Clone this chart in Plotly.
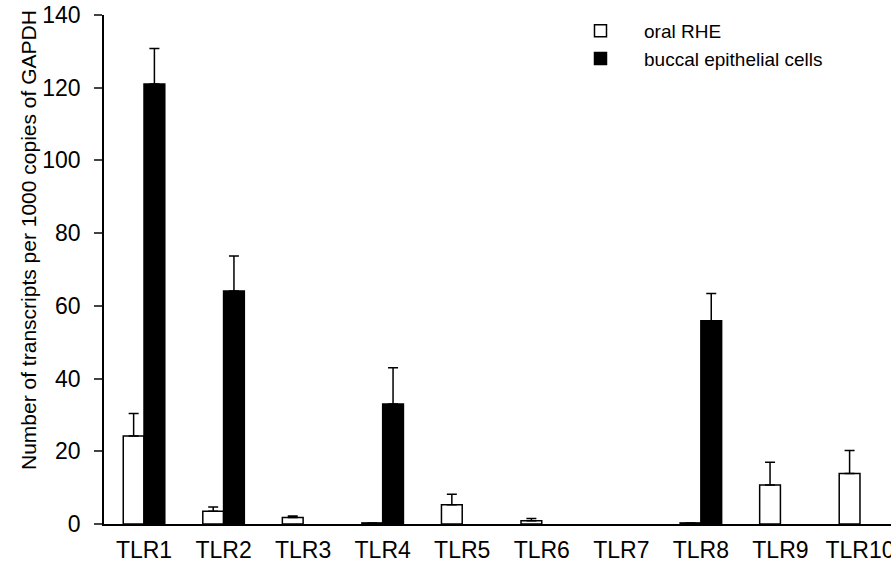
import plotly.graph_objects as go

categories = ["TLR1", "TLR2", "TLR3", "TLR4", "TLR5", "TLR6", "TLR7", "TLR8", "TLR9", "TLR10"]
rhe_values = [24.2, 3.5, 1.8, 0.3, 5.3, 0.9, None, 0.3, 10.7, 13.9]
rhe_errors = [6.2, 1.2, 0.4, 0.0, 2.9, 0.6, None, 0.0, 6.3, 6.3]
buccal_values = [121.0, 64.1, None, 33.0, None, None, None, 55.9, None, None]
buccal_errors = [9.8, 9.6, None, 10.0, None, None, None, 7.5, None, None]
y_ticks = [0, 20, 40, 60, 80, 100, 120, 140]
y_title = "Number of transcripts per 1000 copies of GAPDH"

FONT = "Arial, 'Liberation Sans', sans-serif"

fig = go.Figure()
fig.add_trace(go.Bar(
    name="oral RHE", x=categories, y=rhe_values,
    marker=dict(color="white", line=dict(color="black", width=1.5)),
    error_y=dict(type="data", array=rhe_errors, arrayminus=[0]*len(rhe_errors),
                 symmetric=False, color="black", thickness=1.5, width=5),
))
fig.add_trace(go.Bar(
    name="buccal epithelial cells", x=categories, y=buccal_values,
    marker=dict(color="black", line=dict(color="black", width=1.5)),
    error_y=dict(type="data", array=buccal_errors, arrayminus=[0]*len(buccal_errors),
                 symmetric=False, color="black", thickness=1.5, width=5),
))

fig.update_layout(
    width=891, height=563,
    margin=dict(l=104, r=0, t=15, b=39, autoexpand=False),
    paper_bgcolor="white", plot_bgcolor="white",
    barmode="group", bargap=0.478, bargroupgap=0,
    font=dict(family=FONT, color="black", size=23),
    showlegend=True,
    legend=dict(x=0.5756, y=1.006, xanchor="left", yanchor="top",
                font=dict(size=19, family=FONT), bgcolor="rgba(0,0,0,0)",
                tracegroupgap=0, itemwidth=77),
    xaxis=dict(type="category", range=[-0.503, 9.39], showline=True,
               linecolor="black", linewidth=1.5, ticks="", showgrid=False,
               zeroline=False, tickfont=dict(size=23), automargin=False,
               ticklabelstandoff=5, ticklabeloverflow="allow"),
    yaxis=dict(range=[0, 140], tickvals=y_ticks, showline=True, linecolor="black",
               linewidth=1.5, ticks="outside", ticklen=8, tickwidth=1.5,
               showgrid=False, zeroline=False, tickfont=dict(size=23),
               automargin=False, ticklabelstandoff=9, ticklabeloverflow="allow"),
    annotations=[dict(text=y_title, xref="paper", yref="paper",
                      x=(28 - 104) / 787, y=(524 - 240) / 509,
                      xanchor="center", yanchor="middle", textangle=-90,
                      showarrow=False, font=dict(size=21, family=FONT))],
)

# remove the default 8px page margin so the 891x563 figure fills the window exactly
fig.write_html("out.html", config={"displayModeBar": False},
               post_script="document.body.style.margin='0';")
